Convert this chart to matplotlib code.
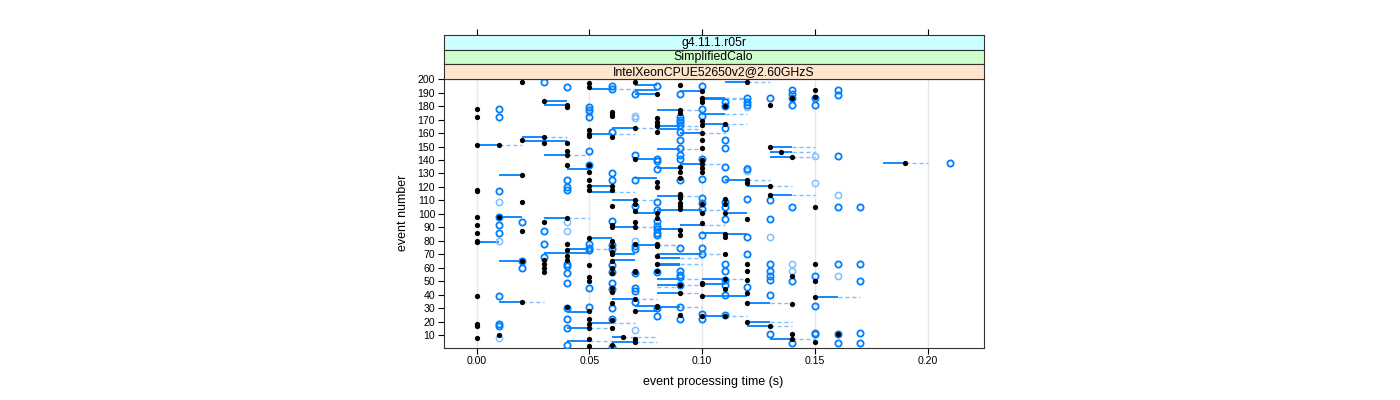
import matplotlib
matplotlib.use("Agg")
import matplotlib.pyplot as plt

plt.rcParams['font.family'] = ['Liberation Sans', 'DejaVu Sans']

# strip labels (outer to inner)
strips = ["g4.11.1.r05r", "SimplifiedCalo", "IntelXeonCPUE52650v2@2.60GHzS"]
strip_colors = ["#ccffff", "#ccffcc", "#ffe5cc"]

# black dots: event numbers per processing time column
black_times = [0.00, 0.01, 0.02, 0.03, 0.04, 0.05, 0.06, 0.065, 0.07, 0.08, 0.09,
               0.10, 0.11, 0.12, 0.13, 0.135, 0.14, 0.15, 0.16, 0.19]
black_events = [
    [178, 172, 151, 118, 117, 98, 92, 86, 80, 79, 39, 18, 17, 8],
    [151, 98, 10],
    [198, 155, 129, 109, 87, 65, 35],
    [184, 157, 153, 94, 66, 63, 60, 57],
    [181, 179, 153, 147, 144, 136, 97, 78, 73, 69, 66, 31],
    [197, 194, 162, 159, 158, 136, 131, 125, 121, 118, 82, 62, 53, 50, 28, 22, 18, 15, 7, 2],
    [176, 174, 173, 157, 121, 118, 106, 92, 90, 80, 76, 72, 70, 65, 60, 56, 45, 42, 34, 21, 15, 3],
    [9],
    [198, 164, 141, 110, 107, 102, 94, 90, 78, 58, 57, 37, 28, 7, 5],
    [189, 171, 168, 166, 165, 161, 124, 120, 101, 97, 78, 76, 69, 63, 58, 32, 31],
    [196, 177, 175, 135, 131, 127, 115, 113, 112, 108, 106, 104, 88, 84, 47, 41, 25],
    [191, 186, 185, 183, 169, 166, 160, 155, 149, 140, 137, 134, 131, 107, 101, 93, 49, 48, 39, 24],
    [180, 167, 111, 107, 101, 85, 83, 70, 52, 44, 24],
    [198, 125, 123, 96, 63, 58, 51, 41, 34, 20],
    [181, 150, 121, 114, 17],
    [146],
    [186, 142, 54, 33, 11, 7],
    [192, 187, 105, 63, 50, 38, 5],
    [11],
    [138],
]

# open circles (reference runs)
circ_times = [0.01, 0.02, 0.03, 0.04, 0.05, 0.06, 0.07, 0.08, 0.09, 0.10,
              0.11, 0.12, 0.13, 0.14, 0.15, 0.16, 0.17, 0.21]
circ_events = [
    [178, 172, 117, 98, 92, 86, 39, 18, 17],
    [94, 65, 60],
    [198, 87, 78, 68],
    [194, 125, 120, 118, 63, 61, 56, 49, 30, 22, 15, 3],
    [179, 177, 172, 147, 136, 78, 75, 73, 45, 31],
    [195, 193, 161, 130, 125, 95, 77, 74, 62, 57, 49, 44, 30, 22, 1],
    [189, 144, 125, 106, 76, 74, 56, 45, 43, 35],
    [195, 141, 139, 133, 109, 103, 95, 91, 89, 86, 84, 57, 30, 24],
    [189, 172, 170, 168, 166, 161, 155, 149, 144, 141, 125, 75, 58, 55, 53, 47, 31, 22],
    [195, 178, 173, 141, 126, 112, 108, 104, 84, 75, 70, 26, 22],
    [183, 180, 164, 155, 149, 135, 126, 109, 105, 96, 63, 58, 51, 47, 40, 25],
    [186, 183, 181, 133, 111, 83, 70, 46],
    [186, 110, 96, 63, 58, 54, 51, 40, 11],
    [192, 189, 186, 181, 105, 50, 4],
    [186, 181, 54, 32, 12, 11],
    [192, 188, 143, 105, 63, 11, 4],
    [105, 63, 50, 12, 4],
    [138],
]

# lighter open circles
light_times = [0.01, 0.04, 0.05, 0.07, 0.12, 0.13, 0.14, 0.15, 0.16]
light_events = [
    [109, 80, 8],
    [94, 87],
    [176],
    [173, 171, 80, 14],
    [179, 134, 132],
    [83],
    [63, 58],
    [143, 123],
    [114, 54],
]

# ranges: event, start (solid) -> mid, mid -> end (dashed)
seg_event = [198, 196, 193, 192, 191, 189, 186, 185, 184, 181, 177, 174, 167, 165, 164,
             163, 160, 159, 157, 154, 151, 150, 148, 146, 144, 142, 141, 138, 137, 134,
             133, 129, 127, 125, 121, 121, 116, 114, 113, 110, 103, 101, 101, 98, 97, 92,
             90, 89, 86, 85, 82, 79, 77, 77, 74, 71, 70, 70, 67, 66, 65, 63, 62,
             52, 52, 48, 47, 46, 41, 39, 38, 37, 35, 34, 32, 31, 28, 27, 24, 20, 19,
             17, 15, 9, 7, 6, 5]
seg_start = [0.11, 0.07, 0.05, 0.07, 0.09, 0.07, 0.10, 0.10, 0.03, 0.03, 0.08, 0.10, 0.10, 0.08, 0.06,
             0.08, 0.09, 0.05, 0.02, 0.02, 0.00, 0.13, 0.08, 0.13, 0.03, 0.13, 0.07, 0.18, 0.09, 0.08,
             0.04, 0.01, 0.07, 0.11, 0.05, 0.12, 0.05, 0.13, 0.08, 0.06, 0.08, 0.07, 0.11, 0.01, 0.03, 0.09,
             0.06, 0.08, 0.10, 0.11, 0.05, 0.00, 0.07, 0.08, 0.04, 0.03, 0.06, 0.08, 0.08, 0.06, 0.01, 0.08, 0.08,
             0.08, 0.10, 0.10, 0.08, 0.08, 0.08, 0.10, 0.15, 0.06, 0.01, 0.12, 0.07, 0.08, 0.07, 0.04, 0.10, 0.12, 0.05,
             0.12, 0.04, 0.06, 0.13, 0.04, 0.06]
seg_mid = [0.12, 0.08, 0.06, 0.08, 0.10, 0.08, 0.11, 0.11, 0.04, 0.04, 0.09, 0.11, 0.11, 0.09, 0.07,
           0.09, 0.10, 0.06, 0.03, 0.04, 0.01, 0.14, 0.09, 0.14, 0.04, 0.14, 0.08, 0.19, 0.10, 0.09,
           0.05, 0.02, 0.08, 0.12, 0.06, 0.13, 0.06, 0.14, 0.09, 0.07, 0.10, 0.08, 0.12, 0.02, 0.04, 0.10,
           0.07, 0.09, 0.11, 0.12, 0.06, 0.01, 0.08, 0.08, 0.05, 0.05, 0.07, 0.10, 0.09, 0.07, 0.02, 0.09, 0.09,
           0.09, 0.11, 0.11, 0.09, 0.08, 0.09, 0.12, 0.16, 0.07, 0.02, 0.13, 0.08, 0.09, 0.08, 0.05, 0.11, 0.13, 0.06,
           0.13, 0.05, 0.065, 0.14, 0.05, 0.07]
seg_end = [0.13, 0.08, 0.07, 0.08, 0.10, 0.08, 0.12, 0.12, 0.04, 0.04, 0.10, 0.12, 0.12, 0.10, 0.08,
           0.10, 0.11, 0.07, 0.04, 0.04, 0.02, 0.15, 0.10, 0.15, 0.05, 0.15, 0.08, 0.20, 0.11, 0.09,
           0.05, 0.02, 0.08, 0.13, 0.06, 0.14, 0.07, 0.15, 0.10, 0.08, 0.11, 0.08, 0.12, 0.02, 0.05, 0.11,
           0.08, 0.09, 0.11, 0.12, 0.06, 0.01, 0.09, 0.09, 0.06, 0.05, 0.07, 0.11, 0.10, 0.07, 0.02, 0.10, 0.09,
           0.10, 0.12, 0.11, 0.10, 0.09, 0.10, 0.12, 0.17, 0.08, 0.03, 0.14, 0.08, 0.10, 0.08, 0.05, 0.12, 0.14, 0.07,
           0.14, 0.06, 0.08, 0.15, 0.06, 0.08]

x_ticks = [0.00, 0.05, 0.10, 0.15, 0.20]
y_ticks = list(range(10, 201, 10))

blue = "#0080ff"
light_blue = "#80bfff"

fig = plt.figure(figsize=(14, 4), dpi=100)
W, H = 1400.0, 400.0
L, R, T, B = 443.5, 983.5, 78.5, 348.0
ax = fig.add_axes([L / W, 1 - B / H, (R - L) / W, (B - T) / H])

for xt in x_ticks:
    ax.axvline(xt, color="#e6e6e6", lw=0.9, zorder=0)

for e, s, m, en in zip(seg_event, seg_start, seg_mid, seg_end):
    ax.plot([s, m], [e, e], color=blue, lw=1.3, solid_capstyle="butt", zorder=2)
    if en > m:
        ax.plot([m, en], [e, e], color=light_blue, lw=1.0, linestyle=(0, (3, 2)), zorder=2)

for t, evs in zip(light_times, light_events):
    ax.plot([t] * len(evs), evs, linestyle="none", marker="o", ms=4.5, mfc="none",
            mec=light_blue, mew=1.1, zorder=3)
for t, evs in zip(circ_times, circ_events):
    ax.plot([t] * len(evs), evs, linestyle="none", marker="o", ms=4.5, mfc="none",
            mec=blue, mew=1.3, zorder=4)
for t, evs in zip(black_times, black_events):
    ax.plot([t] * len(evs), evs, linestyle="none", marker="o", ms=3.8, mfc="black",
            mec="black", mew=0, zorder=5)

ax.set_xlim(-0.0147, 0.2247)
ax.set_ylim(0.5, 200.5)
ax.set_xticks(x_ticks)
ax.set_xticklabels(["%.2f" % v for v in x_ticks])
ax.set_yticks(y_ticks)
ax.tick_params(direction="out", length=4, width=0.8, labelsize=7.6, colors="black", pad=2)
for sp in ax.spines.values():
    sp.set_linewidth(0.8)
    sp.set_color("#333333")
ax.set_xlabel("event processing time (s)", fontsize=9, labelpad=7)
ax.set_ylabel("event number", fontsize=9, labelpad=6)

# strips above the panel
strip_h = (T - 35.0) / 3
for i, (txt, col) in enumerate(zip(strips, strip_colors)):
    top = 35.0 + i * strip_h
    sax = fig.add_axes([L / W, 1 - (top + strip_h) / H, (R - L) / W, strip_h / H])
    sax.set_facecolor(col)
    sax.set_xlim(ax.get_xlim())
    sax.set_yticks([])
    if i == 0:
        sax.set_xticks(x_ticks)
        sax.tick_params(axis="x", bottom=False, top=True, labelbottom=False,
                        direction="out", length=4, width=0.8)
    else:
        sax.set_xticks([])
    for sp in sax.spines.values():
        sp.set_linewidth(0.8)
        sp.set_color("#333333")
    sax.text(0.5, 0.45, txt, transform=sax.transAxes, ha="center", va="center", fontsize=8.8)

fig.savefig("out.png", dpi=100)
